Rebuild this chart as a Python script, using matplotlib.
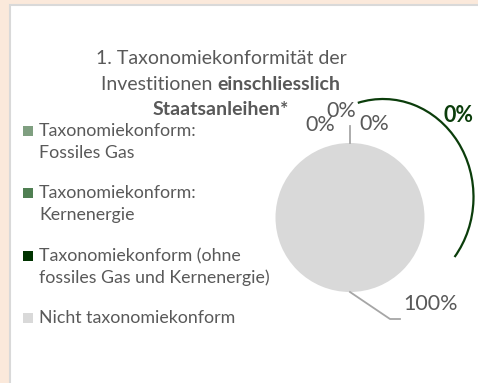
import matplotlib.pyplot as plt
from matplotlib.patches import Rectangle, Arc

plt.rcParams['font.family'] = ['Lato', 'DejaVu Sans']

# Anteile am Portfolio (%)
kategorien = ['Taxonomiekonform:\nFossiles Gas',
              'Taxonomiekonform:\nKernenergie',
              'Taxonomiekonform (ohne\nfossiles Gas und Kernenergie)',
              'Nicht taxonomiekonform']
anteile = [0, 0, 0, 100]
farben = ['#7f9f80', '#4f7f52', '#003300', '#d9d9d9']

textfarbe = '#595959'
gruen = '#0b3d0b'

fig = plt.figure(figsize=(4.78, 3.83), dpi=100, facecolor='#fbe9db')
ax = fig.add_axes([0, 0, 1, 1])

# weisses Feld mit grauem Rahmen
ax.add_patch(Rectangle((10, 5), 480, 390, facecolor='white',
                       edgecolor='#d9d9d9', lw=1.5, zorder=0))

# Kreisdiagramm
ax.pie(anteile, colors=farben, startangle=90, counterclock=False,
       center=(350, 217.5), radius=74.5, frame=True,
       wedgeprops=dict(linewidth=0))
ax.set_xlim(0, 478)
ax.set_ylim(383, 0)
ax.axis('off')

# Titel (zweite Zeile teils fett)
cx = 221
fs = 14
ax.text(cx, 64, '1. Taxonomiekonformität der', ha='center', va='baseline',
        fontsize=fs, color=textfarbe)
r = fig.canvas.get_renderer()
t1 = ax.text(0, 90, 'Investitionen ', ha='left', va='baseline',
             fontsize=fs, color=textfarbe)
t2 = ax.text(0, 90, 'einschliesslich', ha='left', va='baseline',
             fontsize=fs, color=textfarbe, fontweight='bold')
w1 = t1.get_window_extent(r).width
w2 = t2.get_window_extent(r).width
x0 = cx - (w1 + w2) / 2
t1.set_x(x0)
t2.set_x(x0 + w1)
ax.text(cx, 115, 'Staatsanleihen*', ha='center', va='baseline',
        fontsize=fs, color=textfarbe, fontweight='bold')

# Legende
leg_y = [131, 193, 256, 318]
for name, farbe, y in zip(kategorien, farben, leg_y):
    ax.add_patch(Rectangle((23, y - 5), 10, 10, facecolor=farbe, lw=0))
    for i, zeile in enumerate(name.split('\n')):
        ax.text(39, y + 5 + i * 22, zeile, ha='left', va='baseline',
                fontsize=12.8, color=textfarbe)

# Datenbeschriftungen
lab_pos = [(320, 125), (341, 111), (374, 124.5), (431, 304)]
for wert, (x, y) in zip(anteile, lab_pos):
    ax.text(x, y, f'{wert}%', ha='center', va='center', fontsize=15.5,
            color=textfarbe)
ax.plot([350, 350], [143, 126], color='#a6a6a6', lw=1.3)
ax.plot([350, 390, 400], [292, 319, 319], color='#a6a6a6', lw=1.3)

# Summe taxonomiekonform mit Bogen
summe = sum(anteile[:3])
ax.add_patch(Arc((383, 197), 181, 196, theta1=-105, theta2=40,
                 color=gruen, lw=1.6))
ax.text(459, 115, f'{summe}%', ha='center', va='center', fontsize=15.5,
        color=gruen, fontweight='bold')

fig.savefig('out.png', dpi=100, facecolor=fig.get_facecolor())
